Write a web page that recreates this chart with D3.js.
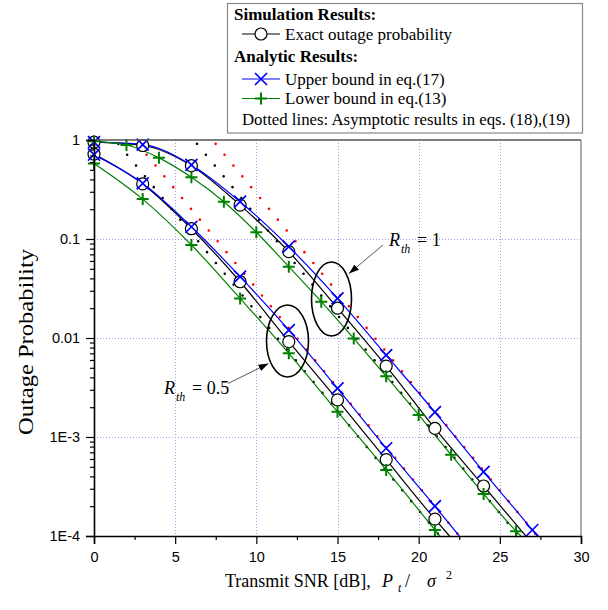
<!DOCTYPE html>
<html>
<head>
<meta charset="utf-8">
<script src="https://cdn.jsdelivr.net/npm/d3@7"></script>
<style>
  html, body { margin: 0; padding: 0; background: #fff; }
  text { font-family: "Liberation Serif", "Times New Roman", serif; }
  .tick text { font-family: "Liberation Sans", Arial, sans-serif; }
</style>
</head>
<body>
<svg id="chart" width="608" height="610"></svg>
<script>
// Outage probability versus transmit SNR, for R_th = 0.5 and R_th = 1.

const xTicks = [0, 5, 10, 15, 20, 25, 30];
const xMinorTicks = [2.5, 7.5, 12.5, 17.5, 22.5, 27.5];
const xGrid = [5, 10, 15, 20, 25];
const yTicks = [1e-4, 1e-3, 1e-2, 1e-1, 1];
const yTickLabels = ["1E-4", "1E-3", "0.01", "0.1", "1"];
const yGrid = [1e-3, 1e-2, 1e-1];

// [transmit SNR (dB), outage probability]
const exactR05 = [[0, 0.72], [3, 0.36], [6, 0.127], [9, 0.037], [12, 0.0092], [15, 0.00237],
                  [18, 5.9e-4], [21, 1.48e-4], [21.9, 1e-4]];
const upperR05 = [[0, 0.71], [3, 0.365], [6, 0.133], [9, 0.0416], [12, 0.012], [15, 0.0031],
                  [18, 7.7e-4], [21, 2.0e-4], [22.5, 1e-4]];
const lowerR05 = [[0, 0.58], [3, 0.253], [6, 0.087], [9, 0.0251], [12, 0.007], [15, 0.0018],
                  [18, 4.65e-4], [21, 1.15e-4], [21.3, 1e-4]];

const exactR1 = [[0, 0.95], [3, 0.88], [6, 0.55], [9, 0.22], [12, 0.0745], [15, 0.02],
                 [18, 0.0052], [21, 0.00122], [24, 3.2e-4], [26.6, 1e-4]];
const upperR1 = [[0, 0.95], [3, 0.9], [6, 0.56], [9, 0.238], [12, 0.0836], [15, 0.0251],
                 [18, 0.0067], [21, 0.00178], [24, 4.45e-4], [27, 1.15e-4], [27.3, 1e-4]];
const lowerR1 = [[0, 0.97], [2, 0.89], [4, 0.66], [6, 0.42], [8, 0.238], [10, 0.117],
                 [12, 0.0525], [14, 0.0233], [16, 0.0099], [18, 0.0041], [20, 0.00167],
                 [22, 6.6e-4], [24, 2.66e-4], [26, 1.12e-4], [26.3, 1e-4]];

// High-SNR asymptotes (straight lines on these axes), end points
const asymLowerR05 = [[1.3, 1], [21.3, 1e-4]];
const asymUpperR05 = [[2.5, 1], [22.5, 1e-4]];
const asymLowerR1  = [[6.15, 1], [26.15, 1e-4]];
const asymUpperR1  = [[7.3, 1], [27.3, 1e-4]];

const svg = d3.select("#chart");
const L = 94, R = 581, T = 140, B = 536;

const x = d3.scaleLinear().domain([0, 30]).range([L, R]);
const y = d3.scaleLog().domain([1e-4, 1]).range([B, T]);

svg.append("rect").attr("width", 608).attr("height", 610).attr("fill", "#fff");

svg.append("defs").append("clipPath").attr("id", "plotClip")
  .append("rect").attr("x", L).attr("y", T - 1).attr("width", R - L).attr("height", B - T + 1);

// grid
const grid = svg.append("g").attr("stroke", "#9c9cf2").attr("stroke-width", 1)
  .attr("stroke-dasharray", "1,2");
grid.selectAll(".gx").data(xGrid).join("line")
  .attr("x1", d => Math.round(x(d)) + 0.5).attr("x2", d => Math.round(x(d)) + 0.5)
  .attr("y1", T).attr("y2", B);
grid.selectAll(".gy").data(yGrid).join("line")
  .attr("y1", d => Math.round(y(d)) + 0.5).attr("y2", d => Math.round(y(d)) + 0.5)
  .attr("x1", L).attr("x2", R);

const plot = svg.append("g").attr("clip-path", "url(#plotClip)");
const line = d3.line().x(d => x(d[0])).y(d => y(d[1])).curve(d3.curveMonotoneX);

// asymptotic dotted lines
[[asymLowerR05, "#000"], [asymUpperR05, "#ff0000"], [asymLowerR1, "#000"], [asymUpperR1, "#ff0000"]]
  .forEach(([d, c]) => {
    plot.append("path").datum(d).attr("d", d3.line().x(p => x(p[0])).y(p => y(p[1])))
      .attr("fill", "none").attr("stroke", c).attr("stroke-width", 2.6)
      .attr("stroke-linecap", "round").attr("stroke-dasharray", "0,14")
      .attr("stroke-dashoffset", -5);
  });

const series = [
  { data: exactR05, color: "#000", mark: "circle", step: 3 },
  { data: exactR1,  color: "#000", mark: "circle", step: 3 },
  { data: upperR05, color: "#0000ff", mark: "cross", step: 3 },
  { data: upperR1,  color: "#0000ff", mark: "cross", step: 3 },
  { data: lowerR05, color: "#008000", mark: "plus", step: 3 },
  { data: lowerR1,  color: "#008000", mark: "plus", step: 2 }
];

series.forEach(s => {
  plot.append("path").datum(s.data).attr("d", line)
    .attr("fill", "none").attr("stroke", s.color).attr("stroke-width", 1.2);
});

function drawMarker(g, kind, cx, cy, color) {
  const h = 6;
  if (kind === "circle") {
    g.append("circle").attr("cx", cx).attr("cy", cy).attr("r", 6)
      .attr("fill", "#fff").attr("stroke", "#000").attr("stroke-width", 1.2);
  } else if (kind === "cross") {
    g.append("path").attr("d", `M${cx - h},${cy - h}L${cx + h},${cy + h}M${cx - h},${cy + h}L${cx + h},${cy - h}`)
      .attr("stroke", color).attr("stroke-width", 1.7).attr("fill", "none");
  } else {
    g.append("path").attr("d", `M${cx - h},${cy}L${cx + h},${cy}M${cx},${cy - h}L${cx},${cy + h}`)
      .attr("stroke", color).attr("stroke-width", 2).attr("fill", "none");
  }
}

const marks = svg.append("g");
["circle", "cross", "plus"].forEach(kind => {
  series.filter(s => s.mark === kind).forEach(s => {
    s.data.filter(d => Number.isInteger(d[0] / s.step) && d[1] >= 1e-4)
      .forEach(d => drawMarker(marks, kind, x(d[0]), y(d[1]), s.color));
  });
});

// frame
svg.append("line").attr("x1", L).attr("x2", R).attr("y1", T).attr("y2", T)
  .attr("stroke", "#555").attr("stroke-width", 1.3);
svg.append("line").attr("x1", R).attr("x2", R).attr("y1", T).attr("y2", B)
  .attr("stroke", "#777").attr("stroke-width", 1.2);

// axes
const xAxis = svg.append("g").attr("transform", `translate(0,${B})`)
  .call(d3.axisBottom(x).tickValues(xTicks).tickSize(8).tickFormat(d3.format("d")));
svg.append("g").attr("transform", `translate(0,${B})`)
  .call(d3.axisBottom(x).tickValues(xMinorTicks).tickSize(4).tickFormat(""));

const yMinor = [];
[1e-4, 1e-3, 1e-2, 1e-1].forEach(dec => { for (let k = 2; k <= 9; k++) yMinor.push(dec * k); });
const yAxis = svg.append("g").attr("transform", `translate(${L},0)`)
  .call(d3.axisLeft(y).tickValues(yTicks).tickSize(8)
    .tickFormat((d, i) => yTickLabels[i]));
svg.append("g").attr("transform", `translate(${L},0)`)
  .call(d3.axisLeft(y).tickValues(yMinor).tickSize(4).tickFormat(""));

svg.selectAll(".domain").attr("stroke", "#000").attr("stroke-width", 1.6);
svg.selectAll(".tick line").attr("stroke", "#000").attr("stroke-width", 1.2);
xAxis.selectAll(".tick text").attr("font-size", 14.5).attr("dy", "1.05em").attr("fill", "#000");
yAxis.selectAll(".tick text").attr("font-size", 14.5).attr("dx", "-0.2em").attr("fill", "#000");
svg.selectAll(".domain").filter(function () { return this.parentNode !== xAxis.node() && this.parentNode !== yAxis.node(); })
  .attr("stroke", "none");

// axis titles
svg.append("text").attr("transform", "translate(33,342) rotate(-90)")
  .attr("text-anchor", "middle").attr("font-size", 22)
  .attr("textLength", 186).attr("lengthAdjust", "spacingAndGlyphs")
  .text("Outage Probability");

const xt = svg.append("text").attr("y", 587).attr("font-size", 18);
xt.append("tspan").attr("x", 225).text("Transmit SNR [dB],");
xt.append("tspan").attr("x", 382).attr("font-style", "italic").text("P");
xt.append("tspan").attr("x", 398).attr("dy", 5).attr("font-size", 12).attr("font-style", "italic").text("t");
xt.append("tspan").attr("x", 405).attr("dy", -5).text("/");
xt.append("tspan").attr("x", 427).attr("font-style", "italic").text("σ");
xt.append("tspan").attr("x", 446).attr("dy", -8).attr("font-size", 12).text("2");

// annotations
const defs = svg.select("defs");
defs.append("marker").attr("id", "arrowHead").attr("viewBox", "0 0 10 10")
  .attr("refX", 10).attr("refY", 5).attr("markerWidth", 10).attr("markerHeight", 10)
  .attr("markerUnits", "userSpaceOnUse").attr("orient", "auto")
  .append("path").attr("d", "M0,1.5L10,5L0,8.5Z").attr("fill", "#000");

svg.append("ellipse").attr("cx", 331.5).attr("cy", 299).attr("rx", 20).attr("ry", 37)
  .attr("fill", "none").attr("stroke", "#000").attr("stroke-width", 1.6);
svg.append("ellipse").attr("cx", 287.5).attr("cy", 341).attr("rx", 21).attr("ry", 36)
  .attr("fill", "none").attr("stroke", "#000").attr("stroke-width", 1.6);

svg.append("line").attr("x1", 383).attr("y1", 245).attr("x2", 349).attr("y2", 273.5)
  .attr("stroke", "#444").attr("stroke-width", 0.9).attr("marker-end", "url(#arrowHead)");
svg.append("line").attr("x1", 228).attr("y1", 383.5).attr("x2", 268.5).attr("y2", 363.5)
  .attr("stroke", "#444").attr("stroke-width", 0.9).attr("marker-end", "url(#arrowHead)");

function rthLabel(x0, base, value) {
  const t = svg.append("text").attr("y", base).attr("font-size", 18);
  t.append("tspan").attr("x", x0).attr("font-style", "italic").text("R");
  t.append("tspan").attr("x", x0 + 12).attr("dy", 7).attr("font-size", 12).attr("font-style", "italic").text("th");
  t.append("tspan").attr("x", x0 + 28).attr("dy", -7).text("= " + value);
}
rthLabel(389, 246, "1");
rthLabel(164, 394, "0.5");

// legend
const lg = svg.append("g");
lg.append("rect").attr("x", 227.5).attr("y", 3.5).attr("width", 355).attr("height", 129.5)
  .attr("fill", "#fff").attr("stroke", "#888").attr("stroke-width", 1.2);
lg.append("text").attr("x", 234).attr("y", 19.5).attr("font-size", 17).attr("font-weight", "bold")
  .text("Simulation Results:");
lg.append("text").attr("x", 234).attr("y", 61.5).attr("font-size", 17).attr("font-weight", "bold")
  .text("Analytic Results:");
const legendRows = [
  { y: 34, color: "#000", mark: "circle", label: "Exact outage probability" },
  { y: 79, color: "#0000ff", mark: "cross", label: "Upper bound in eq.(17)" },
  { y: 98.5, color: "#008000", mark: "plus", label: "Lower bound in eq.(13)" }
];
legendRows.forEach(r => {
  lg.append("line").attr("x1", 242).attr("x2", 280).attr("y1", r.y).attr("y2", r.y)
    .attr("stroke", r.color).attr("stroke-width", 1.2);
  drawMarker(lg, r.mark, 261, r.y, r.color);
  lg.append("text").attr("x", 285).attr("y", r.y + 5.5).attr("font-size", 17).text(r.label);
});
lg.append("text").attr("x", 242).attr("y", 125).attr("font-size", 16.8)
  .text("Dotted lines: Asymptotic results in eqs. (18),(19)");
</script>
</body>
</html>
